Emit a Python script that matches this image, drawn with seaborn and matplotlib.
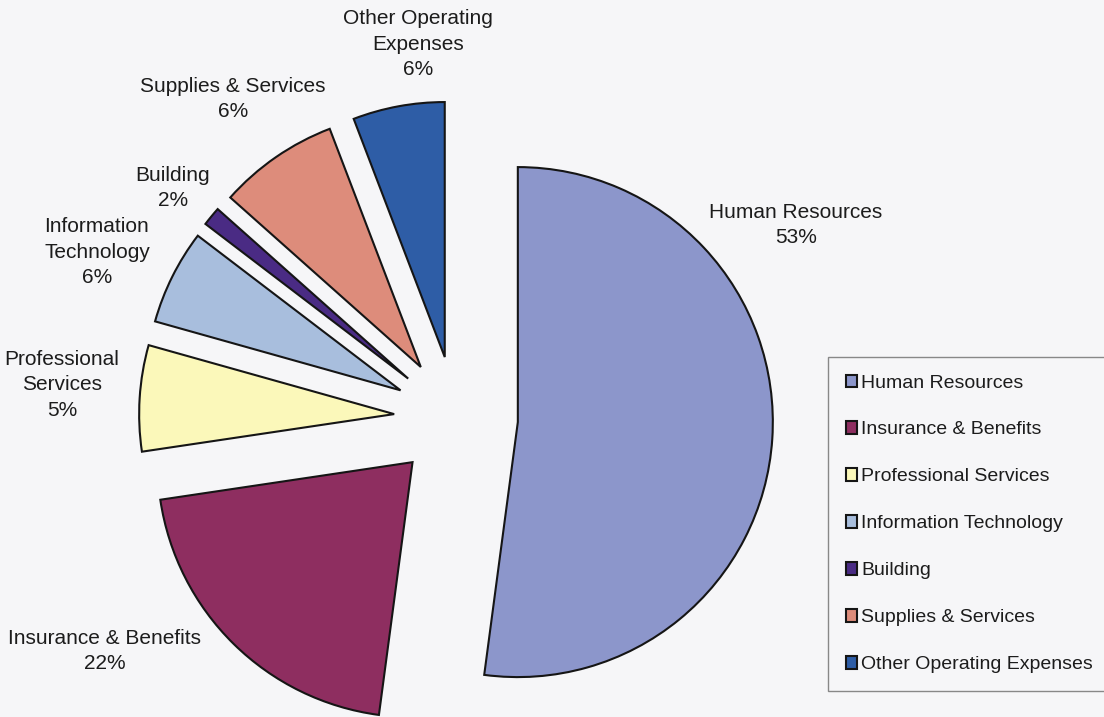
import numpy as np
import pandas as pd
import matplotlib
matplotlib.use("Agg")
import matplotlib.pyplot as plt
import seaborn as sns

# slice shares as drawn (angles) and the printed percentages
categories = ["Human Resources", "Insurance & Benefits", "Professional Services",
              "Information Technology", "Building", "Supplies & Services",
              "Other Operating Expenses"]
shares = [52.0, 20.5, 6.7, 6.0, 1.2, 7.6, 5.8]
pct_text = ["53%", "22%", "5%", "6%", "2%", "6%", "6%"]
label_names = ["Human Resources", "Insurance & Benefits", "Professional\nServices",
               "Information\nTechnology", "Building", "Supplies & Services",
               "Other Operating\nExpenses"]

colors = ["#8C96CB", "#8E2E60", "#FBF8BA", "#A8BEDD", "#4A2B84", "#DD8C7B", "#2E5DA6"]

df = pd.DataFrame({"category": categories, "share": shares, "pct": pct_text})

sns.set_theme(style="white")
plt.rcParams["font.family"] = ["Liberation Sans", "DejaVu Sans"]

W, H = 1104, 717
R = 255
fig = plt.figure(figsize=(W / 100, H / 100), dpi=100)
fig.patch.set_facecolor("#f6f6f8")
ax = fig.add_axes([0, 0, 1, 1])
ax.set_facecolor("#f6f6f8")

labels = [n + "\n" + p for n, p in zip(label_names, df["pct"])]
# explode is in data units when radius != 1
wedges, texts = ax.pie(df["share"], colors=colors, startangle=90, counterclock=False,
                       explode=[0.243 * R] * len(df), radius=R, center=(456, H - 418),
                       labels=labels,
                       wedgeprops=dict(edgecolor="#151515", linewidth=1.5),
                       textprops=dict(fontsize=15, color="#1c1c1c", linespacing=1.45))

# label spots (pixel centres, measured from the top)
label_xy = [(796, 225), (105, 651), (62, 385), (97, 252), (173, 188), (233, 99), (418, 44)]
for t, (x, y) in zip(texts, label_xy):
    t.set_position((x, H - y))
    t.set_ha("center")
    t.set_va("center")
    t.set_multialignment("center")

ax.set_xlim(0, W)
ax.set_ylim(0, H)
ax.set_aspect("equal")
ax.axis("off")

leg = ax.legend(wedges, df["category"], loc="upper left",
                bbox_to_anchor=(828 / W, 1 - 357 / H), bbox_transform=fig.transFigure,
                fontsize=14, frameon=True, fancybox=False, edgecolor="#888888",
                facecolor="#f6f6f8", framealpha=1, borderpad=0.9,
                labelspacing=1.54, handlelength=0.6, handleheight=0.6,
                handletextpad=0.2, borderaxespad=0)
leg.get_frame().set_linewidth(1.0)
for txt in leg.get_texts():
    txt.set_color("#1c1c1c")

fig.savefig("out.png", dpi=100, facecolor=fig.get_facecolor())
